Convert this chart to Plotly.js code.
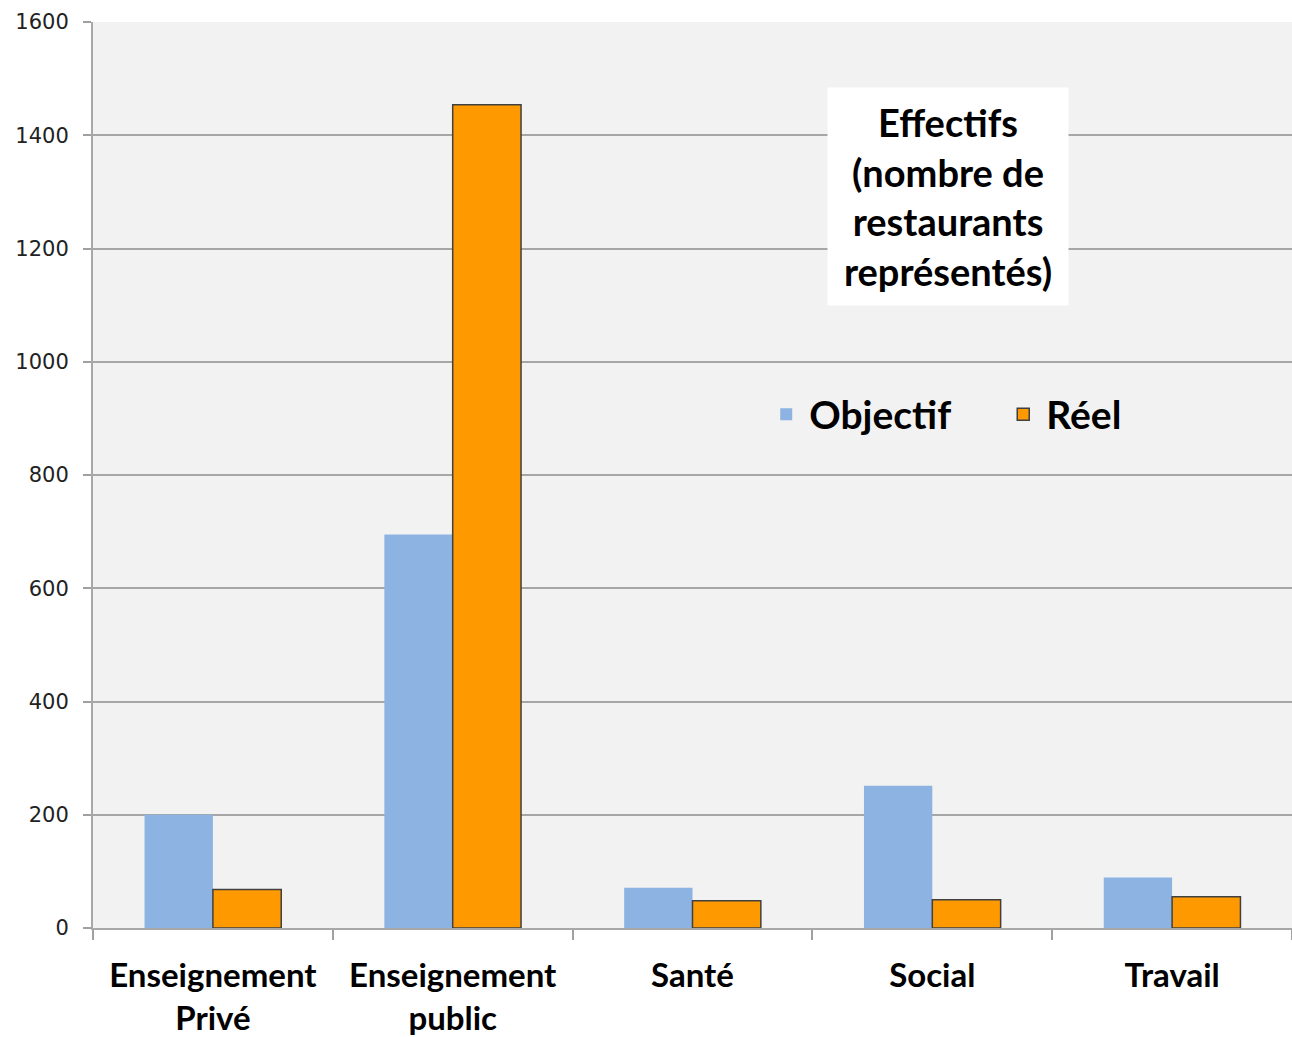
<!DOCTYPE html>
<html>
<head>
<meta charset="utf-8">
<script src="https://cdn.plot.ly/plotly-3.0.1.min.js"></script>
<style>html,body{margin:0;padding:0;background:#fff;}#chart{width:1292px;height:1037px;}</style>
</head>
<body>
<div id="chart"></div>
<script>
const categories = ["Enseignement<br>Privé", "Enseignement<br>public", "Santé", "Social", "Travail"];
const objectif = [200, 695, 71, 251, 89];
const reel = [68, 1454, 48, 50, 55];
const yTicks = [0, 200, 400, 600, 800, 1000, 1200, 1400, 1600];
const seriesNames = ["Objectif", "Réel"];
const titleText = "Effectifs<br>(nombre de<br>restaurants<br>représentés)";

const data = [
  {
    type: "bar", name: seriesNames[0], x: categories, y: objectif,
    marker: {color: "#8db3e2", line: {color: "#8db3e2", width: 0}},
    hoverinfo: "x+y"
  },
  {
    type: "bar", name: seriesNames[1], x: categories, y: reel,
    marker: {color: "#ff9900", line: {color: "#404040", width: 1.5}},
    hoverinfo: "x+y"
  }
];

const layout = {
  width: 1292, height: 1037,
  margin: {l: 93, r: 0, t: 22, b: 109},
  paper_bgcolor: "#ffffff",
  plot_bgcolor: "#f2f2f2",
  barmode: "group",
  bargap: 0.43,
  bargroupgap: 0,
  font: {family: "Lato, sans-serif", color: "#000"},
  xaxis: {
    type: "category",
    automargin: false,
    tickson: "boundaries",
    ticks: "outside", ticklen: 10, tickcolor: "#a0a0a0", tickwidth: 2,
    showline: true, linecolor: "#a8a8a8", linewidth: 2,
    tickfont: {family: "Lato, sans-serif", size: 33, color: "#000", weight: "bold"},
    ticklabelstandoff: 17,
    showgrid: false,
    fixedrange: true
  },
  yaxis: {
    range: [0, 1600],
    automargin: false,
    tickvals: yTicks,
    ticktext: yTicks.map(String),
    ticks: "outside", ticklen: 8, tickcolor: "#a0a0a0", tickwidth: 2,
    showline: true, linecolor: "#a8a8a8", linewidth: 2,
    gridcolor: "#a6a6a6", gridwidth: 2,
    zeroline: false,
    tickfont: {family: "DejaVu Sans, sans-serif", size: 21, color: "#222"},
    ticklabelstandoff: 10,
    fixedrange: true
  },
  showlegend: true,
  legend: {
    orientation: "h",
    x: 0.559, xanchor: "left",
    y: 0.567, yanchor: "middle",
    bgcolor: "rgba(0,0,0,0)",
    font: {family: "Lato, sans-serif", size: 39, color: "#000", weight: "bold"},
    entrywidth: 186, entrywidthmode: "pixels",
    itemwidth: 36,
    traceorder: "normal"
  },
  annotations: [{
    xref: "paper", yref: "paper",
    x: 0.713, y: 0.807, xanchor: "center", yanchor: "middle",
    text: titleText,
    showarrow: false,
    bgcolor: "#ffffff",
    width: 240, height: 217,
    borderpad: 0,
    font: {family: "Lato, sans-serif", size: 38, color: "#000", weight: "bold"},
    align: "center"
  }]
};

Plotly.newPlot("chart", data, layout, {displayModeBar: false, staticPlot: true});
</script>
</body>
</html>
